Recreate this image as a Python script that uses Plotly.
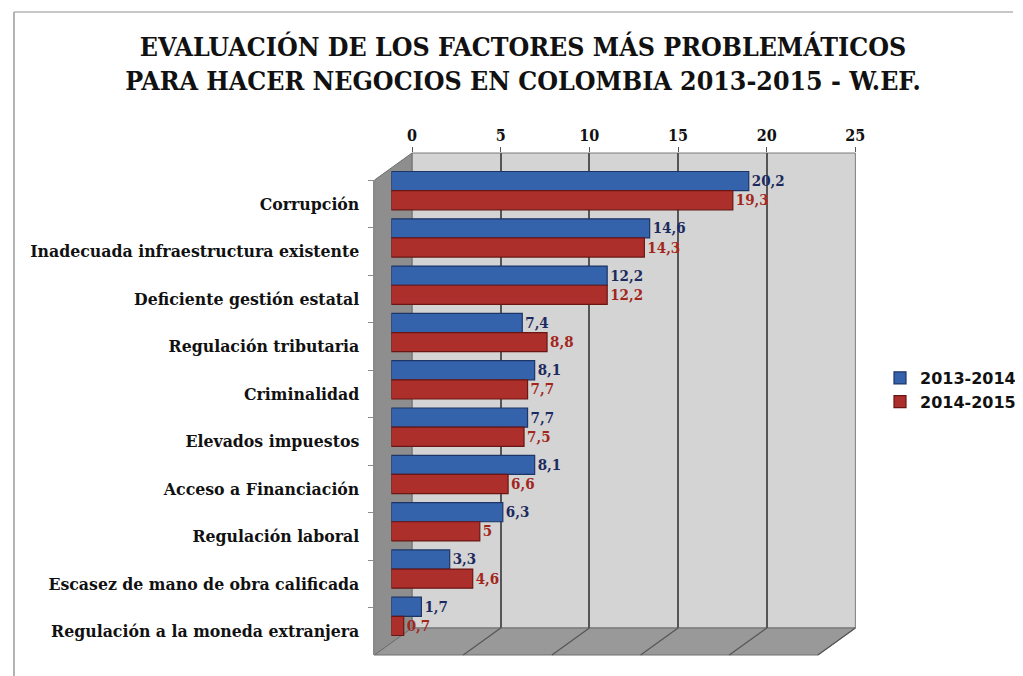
import plotly.graph_objects as go

# page has an 8px body margin: figure occupies 8..1023 x 8..676
OFF = 8
W, H = 1023 - OFF, 676 - OFF

categorias = [
    "Corrupción",
    "Inadecuada infraestructura existente",
    "Deficiente gestión estatal",
    "Regulación tributaria",
    "Criminalidad",
    "Elevados impuestos",
    "Acceso a Financiación",
    "Regulación laboral",
    "Escasez de mano de obra calificada",
    "Regulación a la moneda extranjera",
]
serie_2013_2014 = [20.2, 14.6, 12.2, 7.4, 8.1, 7.7, 8.1, 6.3, 3.3, 1.7]
serie_2014_2015 = [19.3, 14.3, 12.2, 8.8, 7.7, 7.5, 6.6, 5.0, 4.6, 0.7]
ticks_x = [0, 5, 10, 15, 20, 25]


def px(x):
    return (x - OFF) / W


def py(y):
    return 1 - (y - OFF) / H


def fmt(v):
    return ("%g" % v).replace(".", ",")


SERIF = "DejaVu Serif Condensed, DejaVu Serif, serif"

fig = go.Figure()

# back-wall subplot (grid + top ticks)
fig.add_trace(go.Scatter(x=[None], y=[None], xaxis="x", yaxis="y",
                         showlegend=False, hoverinfo="skip"))

# bars
fig.add_trace(go.Bar(
    name="2013-2014", y=categorias, x=serie_2013_2014, orientation="h",
    xaxis="x2", yaxis="y2",
    marker=dict(color="#3462ab", line=dict(color="#1d3566", width=1.2)),
    text=[fmt(v) for v in serie_2013_2014], textposition="outside",
    textfont=dict(family=SERIF, size=15, color="#1c2a5e", weight="bold"),
    cliponaxis=False, legendgroup="a",
))
fig.add_trace(go.Bar(
    name="2014-2015", y=categorias, x=serie_2014_2015, orientation="h",
    xaxis="x2", yaxis="y2",
    marker=dict(color="#ad2f2b", line=dict(color="#6a1714", width=1.2)),
    text=[fmt(v) for v in serie_2014_2015], textposition="outside",
    textfont=dict(family=SERIF, size=15, color="#a3261c", weight="bold"),
    cliponaxis=False, legendgroup="b",
))

# category label axis (front plane)
fig.add_trace(go.Scatter(x=[0] * len(categorias), y=categorias, xaxis="x3", yaxis="y3",
                         mode="markers", marker=dict(opacity=0), showlegend=False,
                         hoverinfo="skip"))

# 3D frame decorations
shapes = []
shapes.append(dict(type="rect", xref="paper", yref="paper", layer="below",
                   x0=px(413), x1=px(863), y0=py(628), y1=py(153),
                   fillcolor="#d4d4d4", line=dict(color="#7a7a7a", width=1)))
shapes.append(dict(type="path", xref="paper", yref="paper", layer="below",
                   path=f"M{px(375)},{py(180)} L{px(413)},{py(153)} L{px(413)},{py(628)} L{px(375)},{py(655)} Z",
                   fillcolor="#8e8e8e", line=dict(color="#6e6e6e", width=1)))
shapes.append(dict(type="path", xref="paper", yref="paper", layer="below",
                   path=f"M{px(375)},{py(655)} L{px(413)},{py(628)} L{px(863)},{py(628)} L{px(825)},{py(655)} Z",
                   fillcolor="#999999", line=dict(color="#6e6e6e", width=1)))
scale = (863 - 413) / 25
for t in ticks_x[1:]:
    bx = 413 + t * scale
    fx = 375 + t * scale
    shapes.append(dict(type="line", xref="paper", yref="paper", layer="below",
                       x0=px(bx), y0=py(628), x1=px(fx), y1=py(655),
                       line=dict(color="#555555", width=1.2)))
# outer frame
shapes.append(dict(type="line", xref="paper", yref="paper",
                   x0=px(9), y0=py(12), x1=px(9), y1=0,
                   line=dict(color="#9a9a9a", width=1.5)))
shapes.append(dict(type="line", xref="paper", yref="paper",
                   x0=px(9), y0=py(12), x1=1, y1=py(12),
                   line=dict(color="#b5b5b5", width=1.5)))

fig.update_layout(
    width=W, height=H, autosize=False,
    margin=dict(l=0, r=0, t=0, b=0),
    paper_bgcolor="white", plot_bgcolor="rgba(0,0,0,0)",
    barmode="group", bargap=0.19, bargroupgap=0.0,
    title=dict(
        text="EVALUACIÓN DE LOS FACTORES MÁS PROBLEMÁTICOS<br>PARA HACER NEGOCIOS EN COLOMBIA 2013-2015 - W.EF.",
        x=px(523), xanchor="center", y=py(56), yanchor="middle",
        font=dict(family=SERIF, size=26.5, color="#111111", weight="bold"),
    ),
    xaxis=dict(domain=[px(413), px(863)], range=[0, 25], side="top", anchor="y",
               tickvals=ticks_x, ticks="outside", ticklen=5, tickcolor="#555555",
               showgrid=True, gridcolor="#555555", gridwidth=1.5, zeroline=False,
               showline=False,
               tickfont=dict(family=SERIF, size=16, color="#111111", weight="bold")),
    yaxis=dict(domain=[py(628), py(153)], range=[0, 1], visible=False),
    xaxis2=dict(domain=[px(392), px(841)], range=[0, 25], anchor="y2", visible=False),
    yaxis2=dict(domain=[py(640), py(167)], anchor="x2", type="category",
                categoryorder="array", categoryarray=categorias,
                range=[len(categorias) - 0.5, -0.5], visible=False),
    xaxis3=dict(domain=[px(375), px(825)], range=[0, 25], anchor="y3", visible=False),
    yaxis3=dict(domain=[py(655), py(180)], anchor="x3", type="category",
                categoryorder="array", categoryarray=categorias,
                range=[len(categorias) - 0.5, -0.5],
                showline=True, linecolor="#8a8a8a", linewidth=1.5,
                ticks="outside", tickson="boundaries", ticklen=5, tickcolor="#8a8a8a",
                showgrid=False, ticklabelstandoff=10,
                tickfont=dict(family=SERIF, size=17.5, color="#111111", weight="bold")),
    legend=dict(x=px(888), xanchor="left", y=py(390), yanchor="middle",
                font=dict(family="DejaVu Sans", size=16, color="#111111", weight="bold"),
                tracegroupgap=20, traceorder="normal", bgcolor="rgba(0,0,0,0)"),
    shapes=shapes,
)

fig.write_html("out.html")
